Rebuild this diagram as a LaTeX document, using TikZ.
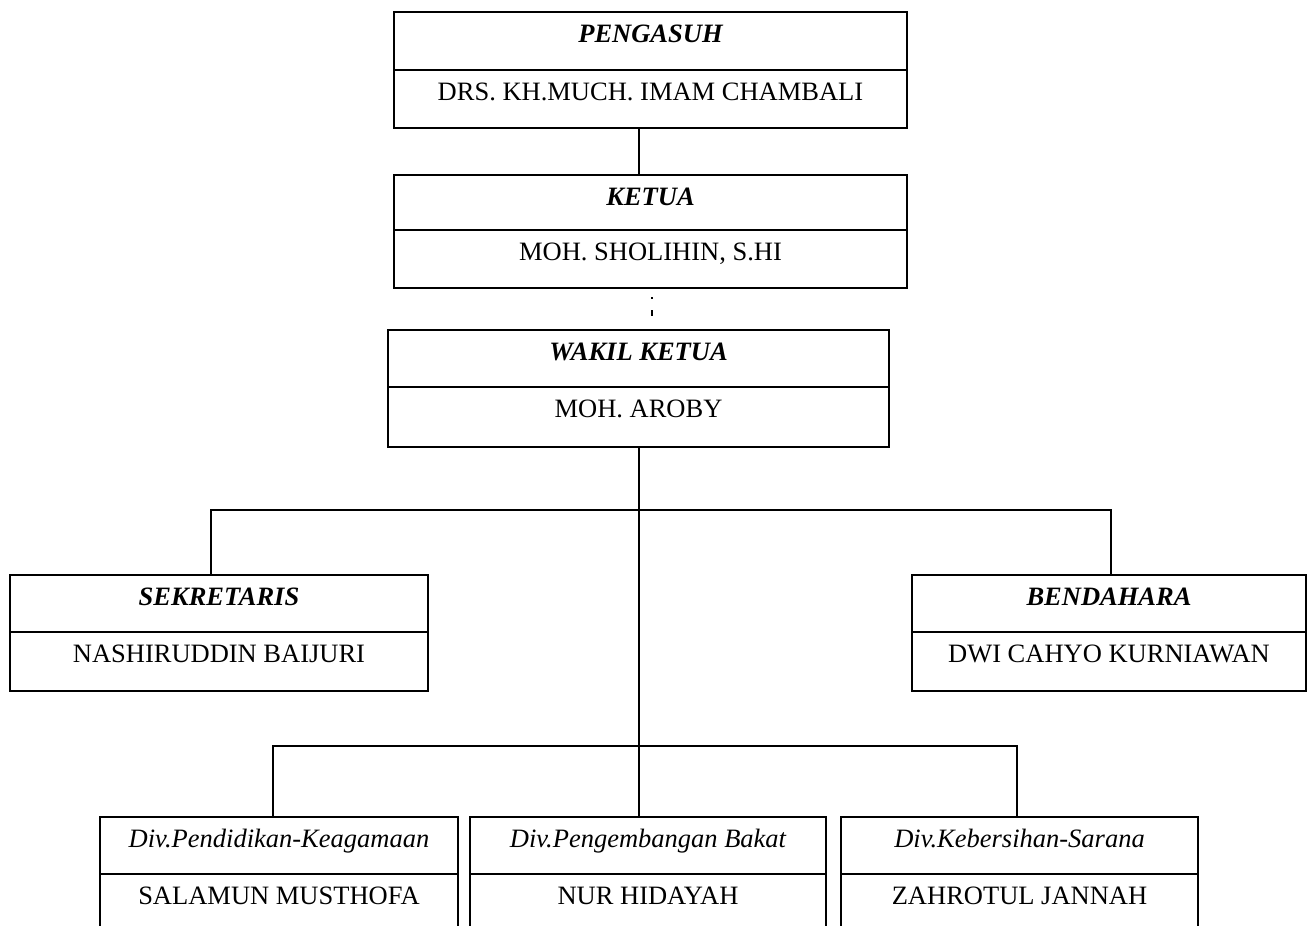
\documentclass[tikz,border=0pt]{standalone}
\usepackage{fontspec}
\setmainfont{Liberation Serif}
\tikzset{
  sec/.style={draw, line width=1.5pt, inner sep=0pt, fill=white},
  txt/.style={inner sep=0pt, font=\fontsize{26.5pt}{30pt}\selectfont},
  hd/.style={font=\fontsize{26.5pt}{30pt}\selectfont\bfseries\itshape},
  dv/.style={font=\fontsize{26.5pt}{30pt}\selectfont\itshape},
  conn/.style={line width=1.5pt},
}
\newcommand\orgbox[9]{%
  \node[sec, minimum width={#3-#2}, minimum height={#5-#4}] (#1t) at ({(#2+#3)/2},{(#4+#5)/2}) {};
  \node[sec, minimum width={#3-#2}, minimum height={#6-#5}] (#1b) at ({(#2+#3)/2},{(#5+#6)/2}) {};
  \node[txt,#9,anchor=base] (#1h) at ({(#2+#3)/2},{#4+30}) {#7};
  \node[txt,anchor=base] (#1n) at ({(#2+#3)/2},{#5+30}) {#8};
}
\begin{document}
\begin{tikzpicture}[x=1pt,y=-1pt]
\clip (0,0) rectangle (1307,926);
\fill[white] (0,0) rectangle (1307,926);
\orgbox{P}{394}{907}{12}{70}{128}{PENGASUH}{DRS. KH.MUCH. IMAM CHAMBALI}{hd}
\orgbox{K}{394}{907}{175}{230}{288}{KETUA}{MOH. SHOLIHIN, S.HI}{hd}
\orgbox{W}{388}{889}{330}{387}{447}{WAKIL KETUA}{MOH. AROBY}{hd}
\orgbox{S}{10}{428}{575}{632}{691}{SEKRETARIS}{NASHIRUDDIN BAIJURI}{hd}
\orgbox{B}{912}{1306}{575}{632}{691}{BENDAHARA}{DWI CAHYO KURNIAWAN}{hd}
\orgbox{Da}{100}{458}{817}{874}{960}{Div.Pendidikan-Keagamaan}{SALAMUN MUSTHOFA}{dv}
\orgbox{Db}{470}{826}{817}{874}{960}{Div.Pengembangan Bakat}{NUR HIDAYAH}{dv}
\orgbox{Dc}{841}{1198}{817}{874}{960}{Div.Kebersihan-Sarana}{ZAHROTUL JANNAH}{dv}
% helper coordinates
\coordinate (t) at (639,0);
\coordinate (kd) at (652,0);
\coordinate (sx) at (211,0);
\coordinate (bx) at (1111,0);
\coordinate (h1) at (0,510);
\coordinate (ax) at (273,0);
\coordinate (cx) at (1017,0);
\coordinate (h2) at (0,746);
\coordinate (kd1) at (0,297);
\coordinate (kd2) at (0,316);
% connectors
\draw[conn] (Pb.south -| t) -- (Kt.north -| t);
\draw[line width=1.5pt, dash pattern=on 2pt off 11pt on 6pt] (kd |- kd1) -- (kd |- kd2);
\draw[conn] (Wb.south -| t) -- (Dbt.north -| t);
\draw[conn] (St.north -| sx) -- (sx |- h1) -- (bx |- h1) -- (Bt.north -| bx);
\draw[conn] (Dat.north -| ax) -- (ax |- h2) -- (cx |- h2) -- (Dct.north -| cx);
\end{tikzpicture}
\end{document}
